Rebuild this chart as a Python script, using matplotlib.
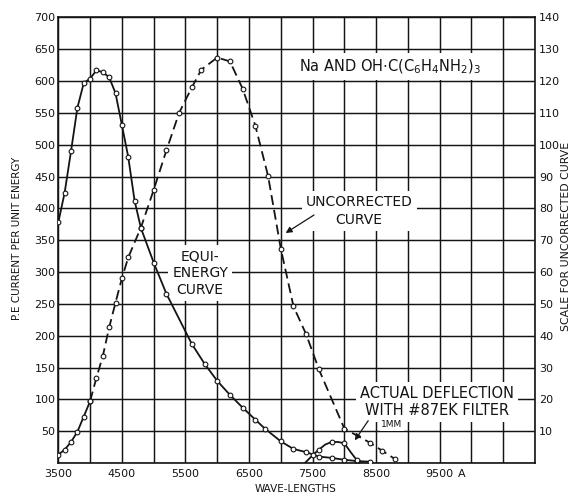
import matplotlib
matplotlib.use('Agg')
import matplotlib.pyplot as plt
import numpy as np

plt.rcParams['font.family'] = ['DejaVu Sans']
plt.rcParams['mathtext.fontset'] = 'dejavusans'

# ---- data ----
equi_x = [3500, 3600, 3700, 3800, 3900, 4000, 4100, 4200, 4300, 4400, 4500, 4600, 4700, 4800,
          5000, 5200, 5600, 5800, 6000, 6200, 6400, 6600, 6750, 7000, 7200, 7400, 7600, 7800,
          8000, 8200, 8400]
equi_y = [378, 425, 490, 558, 597, 604, 617, 614, 606, 581, 531, 481, 412, 369,
          315, 266, 187, 156, 129, 107, 87, 68, 54, 34, 22, 17, 10, 8,
          5, 3, 2]

unc_x = [3500, 3600, 3700, 3800, 3900, 4000, 4100, 4200, 4300, 4400, 4500, 4600, 4800,
         5000, 5200, 5400, 5600, 5750, 6000, 6200, 6400, 6600, 6800, 7000, 7200, 7400,
         7600, 8000, 8400, 8600, 8800]
unc_y = [13, 21, 33, 49, 73, 97, 134, 168, 213, 252, 290, 323, 370,
         429, 491, 550, 590, 618, 637, 631, 588, 530, 451, 337, 246, 202,
         147, 54, 32, 19, 6]

act_x = [7380, 7500, 7600, 7700, 7800, 7900, 8000, 8100, 8200, 8250]
act_y = [0, 12, 21, 29, 33, 33, 31, 17, 4, 0]
act_marks = [1, 2, 4, 6, 8]

x_labels = [3500, 4500, 5500, 6500, 7500, 8500, 9500]
left_ticks = list(range(0, 701, 50))
right_ticks = list(range(10, 141, 10))

INK = '#141414'

fig = plt.figure(figsize=(5.74, 4.94), dpi=100)
ax = fig.add_axes([0.1016, 0.0628, 0.8305, 0.9018])
ax.set_xlim(3500, 11000)
ax.set_ylim(0, 700)

ax.set_xticks(x_labels)
ax.set_xticklabels([str(v) for v in x_labels])
ax.set_xticks(np.arange(3500, 11001, 500), minor=True)
ax.set_yticks(left_ticks)
ax.set_yticklabels([str(v) if v > 0 else '' for v in left_ticks])
ax.tick_params(axis='both', which='both', length=0, labelsize=8, colors=INK)
ax.tick_params(axis='x', pad=4)
ax.tick_params(axis='y', pad=2)
ax.grid(True, which='both', color=INK, lw=1.05)
ax.set_axisbelow(True)
for s in ax.spines.values():
    s.set_color(INK)
    s.set_linewidth(1.2)

ax2 = ax.twinx()
ax2.set_ylim(0, 140)
ax2.set_yticks(right_ticks)
ax2.tick_params(axis='y', length=0, labelsize=8, pad=3, colors=INK)
for s in ax2.spines.values():
    s.set_visible(False)

ax.annotate('A', xy=(9500, 0), xycoords='data', xytext=(13, -4),
            textcoords='offset points', ha='left', va='top', fontsize=8, color=INK)

fig.text(296 / 574, 1 - 489 / 494, 'WAVE-LENGTHS', fontsize=7.5, color=INK,
         ha='center', va='center')
fig.text(17 / 574, 1 - 238 / 494, 'P.E CURRENT PER UNIT ENERGY', fontsize=7.5,
         color=INK, ha='center', va='center', rotation=90)
fig.text(566 / 574, 1 - 236 / 494, 'SCALE FOR UNCORRECTED CURVE', fontsize=7.8,
         color=INK, ha='center', va='center', rotation=90)

mk = dict(marker='o', markersize=3.4, markerfacecolor='white', markeredgecolor=INK,
          markeredgewidth=0.8)

# equi-energy curve (solid)
ax.plot(equi_x, equi_y, color=INK, lw=1.3, zorder=4, **mk)

# uncorrected curve: solid at the bottom, dashed above
n_solid = unc_x.index(4000) + 1
ax.plot(unc_x[:n_solid], unc_y[:n_solid], color=INK, lw=1.3, zorder=4, **mk)
ax.plot(unc_x[n_solid - 1:], unc_y[n_solid - 1:], color=INK, lw=1.3, zorder=4,
        dashes=(5.5, 2.8), **mk)

# actual deflection
ax.plot(act_x, act_y, color=INK, lw=1.3, zorder=4, markevery=act_marks, **mk)

box = dict(facecolor='white', edgecolor='none', pad=3)
ax.text(8720, 623, r'Na AND OH$\cdot$C(C$_6$H$_4$NH$_2$)$_3$', fontsize=10.5,
        ha='center', va='center', color=INK, bbox=box, zorder=3)
ax.text(8234, 396, 'UNCORRECTED\nCURVE', fontsize=10, ha='center', va='center',
        color=INK, linespacing=1.3, bbox=box, zorder=3)
ax.text(5733, 298, 'EQUI-\nENERGY\nCURVE', fontsize=10, ha='center', va='center',
        color=INK, linespacing=1.25, bbox=box, zorder=3)
ax.text(9460, 96, 'ACTUAL DEFLECTION\nWITH #87EK FILTER', fontsize=10.5, ha='center',
        va='center', color=INK, linespacing=1.15, bbox=box, zorder=3)
ax.text(8750, 60, '1MM', fontsize=6.5, ha='center', va='center', color=INK,
        bbox=dict(facecolor='white', edgecolor='none', pad=1), zorder=3)

arr = dict(arrowstyle='-|>', color=INK, lw=0.9, mutation_scale=9)
ax.annotate('', xy=(7040, 359), xytext=(7560, 392), arrowprops=arr, zorder=5)
ax.annotate('', xy=(8140, 32), xytext=(8400, 70), arrowprops=arr, zorder=5)

fig.savefig('out.png', dpi=100)
